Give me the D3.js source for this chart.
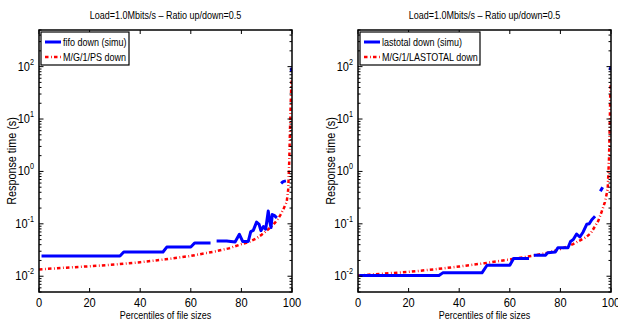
<!DOCTYPE html>
<html>
<head>
<meta charset="utf-8">
<script src="https://cdn.jsdelivr.net/npm/d3@7"></script>
<style>
  html, body { margin: 0; padding: 0; background: #fff; }
  svg { display: block; font-family: "Liberation Sans", Arial, Helvetica, sans-serif; }
</style>
</head>
<body>
<svg id="chart" width="618" height="320"></svg>
<script>
// ---------------------------------------------------------------
// Data
// ---------------------------------------------------------------
const titleText = "Load=1.0Mbits/s \u2013 Ratio up/down=0.5";
const xLabelText = "Percentiles of file sizes";
const yLabelText = "Response time (s)";
const percentTicks = [0, 20, 40, 60, 80, 100];
const decadeTicks = [-2, -1, 0, 1, 2];

// null marks a gap in the simulated curve
const fifoSimu = [
	[1, 0.0244], [32, 0.0244], [33.5, 0.029], [49, 0.029], [50.5, 0.036],
	[60, 0.036], [61.5, 0.043], [67.8, 0.043], null,
	[70.2, 0.047], [74.2, 0.047], [77.5, 0.045], [79.2, 0.063], [80.5, 0.046],
	[82.7, 0.046], [83.7, 0.071], [84.7, 0.075], [86, 0.108], [87, 0.098],
	[87.7, 0.074], [88.7, 0.089], [89.6, 0.079], [90.6, 0.175], [91.3, 0.105],
	[91.7, 0.085], [92.2, 0.15], [93, 0.145], [94, 0.13], null,
	[95.7, 0.59], [96.5, 0.64], [97.6, 0.66], null,
	[99.7, 80], [99.9, 95],
];
const psModel = [
	[0, 0.0135], [10, 0.0145], [20, 0.0155], [30, 0.0167], [40, 0.0185],
	[50, 0.021], [60, 0.0244], [70, 0.03], [75, 0.034], [80, 0.041],
	[83, 0.045], [86, 0.053], [88, 0.062], [90, 0.074], [92, 0.09],
	[93.3, 0.105], [94.5, 0.125], [95.5, 0.15], [96.8, 0.2], [97.9, 0.26],
	[98.5, 0.45], [98.9, 1.5], [99.2, 6], [99.5, 20], [99.7, 40], [99.9, 55],
];
const lastotalSimu = [
	[0.5, 0.0103], [32, 0.0103], [33.5, 0.0116], [49, 0.0116], [51, 0.0162],
	[60, 0.0162], [61.5, 0.0218], [67.6, 0.0218], null,
	[69.5, 0.025], [74, 0.025], [75, 0.028], [78, 0.029], [79, 0.035],
	[83, 0.035], [84, 0.046], [85.1, 0.05], [86.4, 0.064], [87.7, 0.056],
	[89, 0.07], [90.4, 0.098], [91.4, 0.1], [92.4, 0.12], [93.7, 0.14], null,
	[95.8, 0.42], [96.7, 0.5], null,
	[99.7, 85], [99.9, 100],
];
const lastotalModel = [
	[0, 0.0103], [10, 0.0112], [20, 0.0121], [30, 0.0135], [40, 0.0153],
	[50, 0.0177], [60, 0.0209], [70, 0.025], [75, 0.028], [80, 0.033],
	[85, 0.041], [88, 0.049], [90, 0.055], [92, 0.066], [93.7, 0.09],
	[95, 0.115], [96.3, 0.17], [97.6, 0.26], [98.7, 0.46], [99.2, 1.7],
	[99.5, 7], [99.7, 30], [99.9, 50],
];

const panels = [
	{ left: 39, simu: fifoSimu, model: psModel,
	  simuName: "fifo down (simu)", modelName: "M/G/1/PS down", legendW: 88 },
	{ left: 358, simu: lastotalSimu, model: lastotalModel,
	  simuName: "lastotal down (simu)", modelName: "M/G/1/LASTOTAL down", legendW: 120 },
];

// ---------------------------------------------------------------
// Layout
// ---------------------------------------------------------------
const PW = 253, TOP = 30, PH = 262;
const svg = d3.select("#chart");

// narrow Helvetica look: squeeze text horizontally
function label(g, x, y, str, size, anchor, rotate, sx) {
	const t = g.append("text")
		.attr("transform", `translate(${x},${y})` + (rotate ? " rotate(-90)" : "") + ` scale(${sx || 0.9},1)`)
		.attr("text-anchor", anchor || "start")
		.style("font-size", size + "px")
		.style("fill", "#000");
	t.text(str);
	return t;
}

panels.forEach((p) => {
	const g = svg.append("g").attr("transform", `translate(${p.left},${TOP})`);
	const x = d3.scaleLinear().domain([0, 100]).range([0, PW]);
	const y = d3.scaleLog().domain([0.005, 500]).range([PH, 0]);

	// clip region
	const clipId = "clip" + p.left;
	g.append("clipPath").attr("id", clipId)
		.append("rect").attr("width", PW).attr("height", PH);

	// Curves
	const line = d3.line()
		.defined((d) => d !== null)
		.x((d) => x(d[0]))
		.y((d) => y(d[1]));

	g.append("path")
		.datum(p.model)
		.attr("clip-path", `url(#${clipId})`)
		.attr("fill", "none")
		.attr("stroke", "#ff0000")
		.attr("stroke-width", 2.5)
		.attr("stroke-dasharray", "3.5,2.5,0.8,2.2")
		.attr("d", line);

	g.append("path")
		.datum(p.simu)
		.attr("clip-path", `url(#${clipId})`)
		.attr("fill", "none")
		.attr("stroke", "#0000ff")
		.attr("stroke-width", 3)
		.attr("stroke-linejoin", "round")
		.attr("d", line);

	// Ticks (inside, both sides, MATLAB box style)
	const tk = g.append("g").attr("stroke", "#000").attr("stroke-width", 1);
	percentTicks.forEach((v) => {
		tk.append("line").attr("x1", x(v)).attr("x2", x(v)).attr("y1", PH).attr("y2", PH - 4);
		tk.append("line").attr("x1", x(v)).attr("x2", x(v)).attr("y1", 0).attr("y2", 4);
	});
	for (let e = -3; e <= 2; e++) {
		for (let m = 1; m <= 9; m++) {
			const v = m * Math.pow(10, e);
			if (v < 0.005 || v > 500) continue;
			const len = m === 1 ? 4.5 : 2.5;
			tk.append("line").attr("x1", 0).attr("x2", len).attr("y1", y(v)).attr("y2", y(v));
			tk.append("line").attr("x1", PW).attr("x2", PW - len).attr("y1", y(v)).attr("y2", y(v));
		}
	}

	// Frame
	g.append("rect")
		.attr("width", PW).attr("height", PH)
		.attr("fill", "none").attr("stroke", "#000").attr("stroke-width", 1.5);

	// Tick labels
	percentTicks.forEach((v) => {
		label(g, x(v), PH + 15, String(v), 13, "middle", false, 0.85);
	});
	decadeTicks.forEach((e) => {
		const t = label(g, -5, y(Math.pow(10, e)) + 4, "", 13, "end", false, 0.85);
		t.append("tspan").text("10");
		t.append("tspan").attr("dy", -6).style("font-size", "8.5px").text(String(e));
	});

	// Title and axis labels
	label(g, PW / 2, -11, titleText, 10, "middle");
	label(g, PW / 2, PH + 27, xLabelText, 10, "middle");
	label(g, -23, PH / 2, yLabelText, 12, "middle", true);

	// Legend
	const lg = g.append("g").attr("transform", "translate(2,2)");
	lg.append("rect")
		.attr("width", p.legendW).attr("height", 33)
		.attr("fill", "#fff").attr("stroke", "#000").attr("stroke-width", 1.2);
	lg.append("line").attr("x1", 4).attr("x2", 20).attr("y1", 10).attr("y2", 10)
		.attr("stroke", "#0000ff").attr("stroke-width", 3);
	lg.append("line").attr("x1", 4).attr("x2", 20).attr("y1", 25).attr("y2", 25)
		.attr("stroke", "#ff0000").attr("stroke-width", 2.5)
		.attr("stroke-dasharray", "3.5,2.5,0.8,2.2");
	label(lg, 22, 14, p.simuName, 10, "start");
	label(lg, 22, 29, p.modelName, 10, "start");
});
</script>
</body>
</html>
